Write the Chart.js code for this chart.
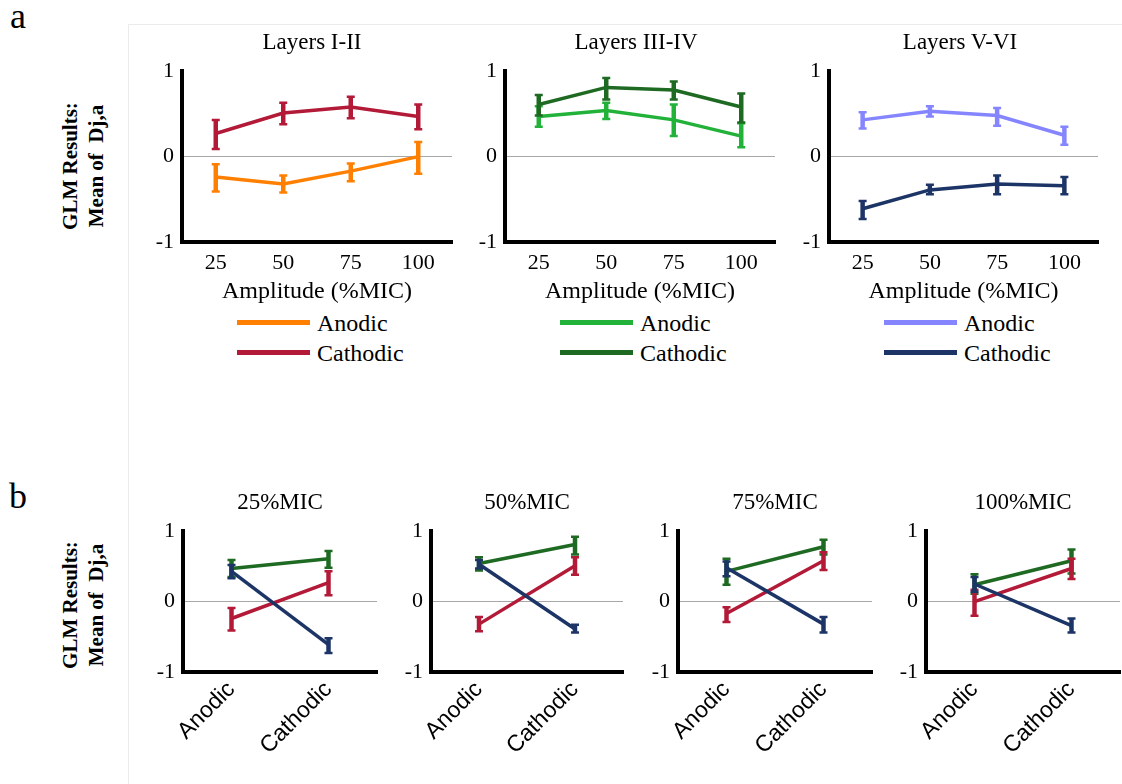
<!DOCTYPE html>
<html><head><meta charset="utf-8">
<script src="https://cdn.jsdelivr.net/npm/chart.js@4.4.1/dist/chart.umd.min.js"></script>
<style>
html,body{margin:0;padding:0;background:#fff;width:1122px;height:784px;overflow:hidden;position:relative;font-family:"Liberation Serif","Times New Roman",serif;color:#000}
canvas{position:absolute}
.t{position:absolute;white-space:pre;line-height:1;transform:translate(-50%,-50%)}
.ytitle{position:absolute;white-space:pre;font-weight:bold;font-size:21px;line-height:26px;text-align:center;transform:translate(-50%,-50%) rotate(-90deg)}
.lg{position:absolute;white-space:pre;font-size:24px;line-height:1;transform:translateY(-50%)}
.lgline{position:absolute;height:5px;width:73px}
</style></head><body>
<div style="position:absolute;left:128px;top:24px;width:1px;height:760px;background:#ebebeb"></div>
<div style="position:absolute;left:128px;top:24px;width:994px;height:1px;background:#ebebeb"></div>
<script>
// ---------- data ----------
const amplitudes = ['25', '50', '75', '100'];
const polarities = ['Anodic', 'Cathodic'];
const layerTitles = ['Layers I-II', 'Layers III-IV', 'Layers V-VI'];
const micTitles = ['25%MIC', '50%MIC', '75%MIC', '100%MIC'];
const yTickValues = [-1, 0, 1];
const xAxisTitle = 'Amplitude (%MIC)';
const yAxisTitle = ['GLM Results:', 'Mean of  Dj,a'];
const panelLetters = ['a', 'b'];

// Layers I-II
const l12AnodicMean   = [-0.24, -0.32, -0.17, 0.00];
const l12AnodicHigh   = [-0.09, -0.22, -0.08, 0.17];
const l12AnodicLow    = [-0.41, -0.42, -0.29, -0.20];
const l12CathodicMean = [0.27, 0.51, 0.58, 0.47];
const l12CathodicHigh = [0.43, 0.63, 0.70, 0.61];
const l12CathodicLow  = [0.09, 0.38, 0.45, 0.32];
// Layers III-IV
const l34AnodicMean   = [0.47, 0.54, 0.43, 0.24];
const l34AnodicHigh   = [0.59, 0.63, 0.61, 0.39];
const l34AnodicLow    = [0.35, 0.44, 0.24, 0.11];
const l34CathodicMean = [0.61, 0.81, 0.78, 0.58];
const l34CathodicHigh = [0.72, 0.92, 0.88, 0.74];
const l34CathodicLow  = [0.48, 0.67, 0.67, 0.40];
// Layers V-VI
const l56AnodicMean   = [0.43, 0.53, 0.48, 0.25];
const l56AnodicHigh   = [0.52, 0.59, 0.57, 0.35];
const l56AnodicLow    = [0.33, 0.47, 0.36, 0.14];
const l56CathodicMean = [-0.61, -0.39, -0.32, -0.34];
const l56CathodicHigh = [-0.52, -0.33, -0.22, -0.24];
const l56CathodicLow  = [-0.73, -0.44, -0.44, -0.44];

// ---------- styles ----------
const colL12A = '#FF8000', colL12C = '#B21A38';
const colL34A = '#22B23A', colL34C = '#1E6A22';
const colL56A = '#8585FF', colL56C = '#1C3566';
const serif = '"Liberation Serif", "Times New Roman", serif';
const sans = '"Liberation Sans", Arial, sans-serif';

const errorBars = {
  id: 'errorBars',
  afterDatasetDraw(chart, args) {
    const ds = chart.data.datasets[args.index];
    if (!ds.errLow) return;
    const ys = chart.scales.y, ctx = chart.ctx;
    ctx.save();
    ctx.strokeStyle = ds.borderColor;
    args.meta.data.forEach((pt, i) => {
      const x = pt.x;
      const y1 = ys.getPixelForValue(ds.errLow[i]);
      const y2 = ys.getPixelForValue(ds.errHigh[i]);
      ctx.lineWidth = 4.5;
      ctx.beginPath(); ctx.moveTo(x, y1); ctx.lineTo(x, y2); ctx.stroke();
      ctx.lineWidth = 2.5;
      ctx.beginPath();
      ctx.moveTo(x - 4, y1); ctx.lineTo(x + 4, y1);
      ctx.moveTo(x - 4, y2); ctx.lineTo(x + 4, y2);
      ctx.stroke();
    });
    ctx.restore();
  }
};

function addText(cls, txt, x, y, extra) {
  const d = document.createElement('div');
  d.className = cls;
  d.textContent = txt;
  d.style.left = x + 'px';
  d.style.top = y + 'px';
  if (extra) Object.assign(d.style, extra);
  document.body.appendChild(d);
  return d;
}

function makeChart(left, top, width, height, labels, datasets, cfg) {
  const c = document.createElement('canvas');
  c.width = width; c.height = height;
  c.style.left = left + 'px'; c.style.top = top + 'px';
  c.style.width = width + 'px'; c.style.height = height + 'px';
  document.body.appendChild(c);
  return new Chart(c, {
    type: 'line',
    data: { labels, datasets },
    options: {
      responsive: false, animation: false, devicePixelRatio: 1,
      layout: { padding: { top: 16, right: 2, left: 0, bottom: 0 } },
      plugins: { legend: { display: false }, title: { display: false }, tooltip: { enabled: false } },
      elements: { point: { radius: 0 }, line: { tension: 0, borderWidth: 3.5 } },
      scales: {
        x: {
          offset: true,
          grid: { display: false, drawTicks: false },
          border: { display: true, color: '#000', width: 4 },
          ticks: { font: cfg.xFont, color: '#000', padding: cfg.xPad, minRotation: cfg.rot, maxRotation: cfg.rot, autoSkip: false },
          title: { display: !!cfg.xTitle, text: cfg.xTitle || '', font: { family: serif, size: 24 }, color: '#000', padding: 0 },
          afterFit: s => { s.height = cfg.xH; }
        },
        y: {
          min: -1, max: 1,
          afterBuildTicks: s => { s.ticks = yTickValues.map(v => ({ value: v })); },
          grid: { drawTicks: false, lineWidth: 1, color: c => (c.tick && c.tick.value === 0) ? '#a8a8a8' : 'rgba(0,0,0,0)' },
          border: { display: true, color: '#000', width: 4 },
          ticks: { font: { family: serif, size: 22 }, color: '#000', padding: 8 },
          afterFit: s => { s.width = 50; }
        }
      }
    },
    plugins: [errorBars]
  });
}

function series(label, color, mean, low, high, order) {
  return { label, data: mean, errLow: low, errHigh: high, borderColor: color, backgroundColor: color, order, fill: false };
}

// ---------- panel a ----------
addText('t', panelLetters[0], 18, 16, { fontSize: '36px' });
addText('ytitle', yAxisTitle.join('\n'), 83, 166);

const layerSets = [
  [series(polarities[0], colL12A, l12AnodicMean, l12AnodicLow, l12AnodicHigh, 1),
   series(polarities[1], colL12C, l12CathodicMean, l12CathodicLow, l12CathodicHigh, 0)],
  [series(polarities[0], colL34A, l34AnodicMean, l34AnodicLow, l34AnodicHigh, 1),
   series(polarities[1], colL34C, l34CathodicMean, l34CathodicLow, l34CathodicHigh, 0)],
  [series(polarities[0], colL56A, l56AnodicMean, l56AnodicLow, l56AnodicHigh, 1),
   series(polarities[1], colL56C, l56CathodicMean, l56CathodicLow, l56CathodicHigh, 0)]
];
const aAxisX = [182, 505, 829], aRight = [452, 775, 1098], aTitleX = [312, 636, 960];
layerSets.forEach((sets, k) => {
  const left = aAxisX[k] - 50;
  const ch = makeChart(left, 50, aRight[k] + 2 - left, 256, amplitudes, sets,
    { xFont: { family: serif, size: 22 }, xPad: 8, rot: 0, xH: 64, xTitle: xAxisTitle });
  addText('t', layerTitles[k], aTitleX[k], 41, { fontSize: '23px' });
  // HTML legend built from the chart's datasets
  ch.data.datasets.forEach((ds, i) => {
    const y = 322 + i * 30;
    const ln = document.createElement('div');
    ln.className = 'lgline';
    ln.style.left = (aAxisX[k] + 55) + 'px';
    ln.style.top = (y - 2.5) + 'px';
    ln.style.background = ds.borderColor;
    document.body.appendChild(ln);
    addText('lg', ds.label, aAxisX[k] + 135, y + 1);
  });
});

// ---------- panel b ----------
addText('t', panelLetters[1], 18, 496, { fontSize: '36px' });
addText('ytitle', yAxisTitle.join('\n'), 83, 605);

const bAxisX = [183, 431, 678, 926], bRight = [377, 623, 872, 1120];
micTitles.forEach((title, j) => {
  const sets = [
    series('Layers III-IV', colL34C, [l34AnodicMean[j], l34CathodicMean[j]], [l34AnodicLow[j], l34CathodicLow[j]], [l34AnodicHigh[j], l34CathodicHigh[j]], 2),
    series('Layers I-II', colL12C, [l12AnodicMean[j], l12CathodicMean[j]], [l12AnodicLow[j], l12CathodicLow[j]], [l12AnodicHigh[j], l12CathodicHigh[j]], 1),
    series('Layers V-VI', colL56C, [l56AnodicMean[j], l56CathodicMean[j]], [l56AnodicLow[j], l56CathodicLow[j]], [l56AnodicHigh[j], l56CathodicHigh[j]], 0)
  ];
  const left = bAxisX[j] - 50;
  makeChart(left, 510, bRight[j] + 2 - left, 262, polarities, sets,
    { xFont: { family: sans, size: 23 }, xPad: 4, rot: 45, xH: 100, xTitle: null });
  addText('t', title, (bAxisX[j] + bRight[j]) / 2, 501, { fontSize: '23px' });
});
</script>
</body></html>
